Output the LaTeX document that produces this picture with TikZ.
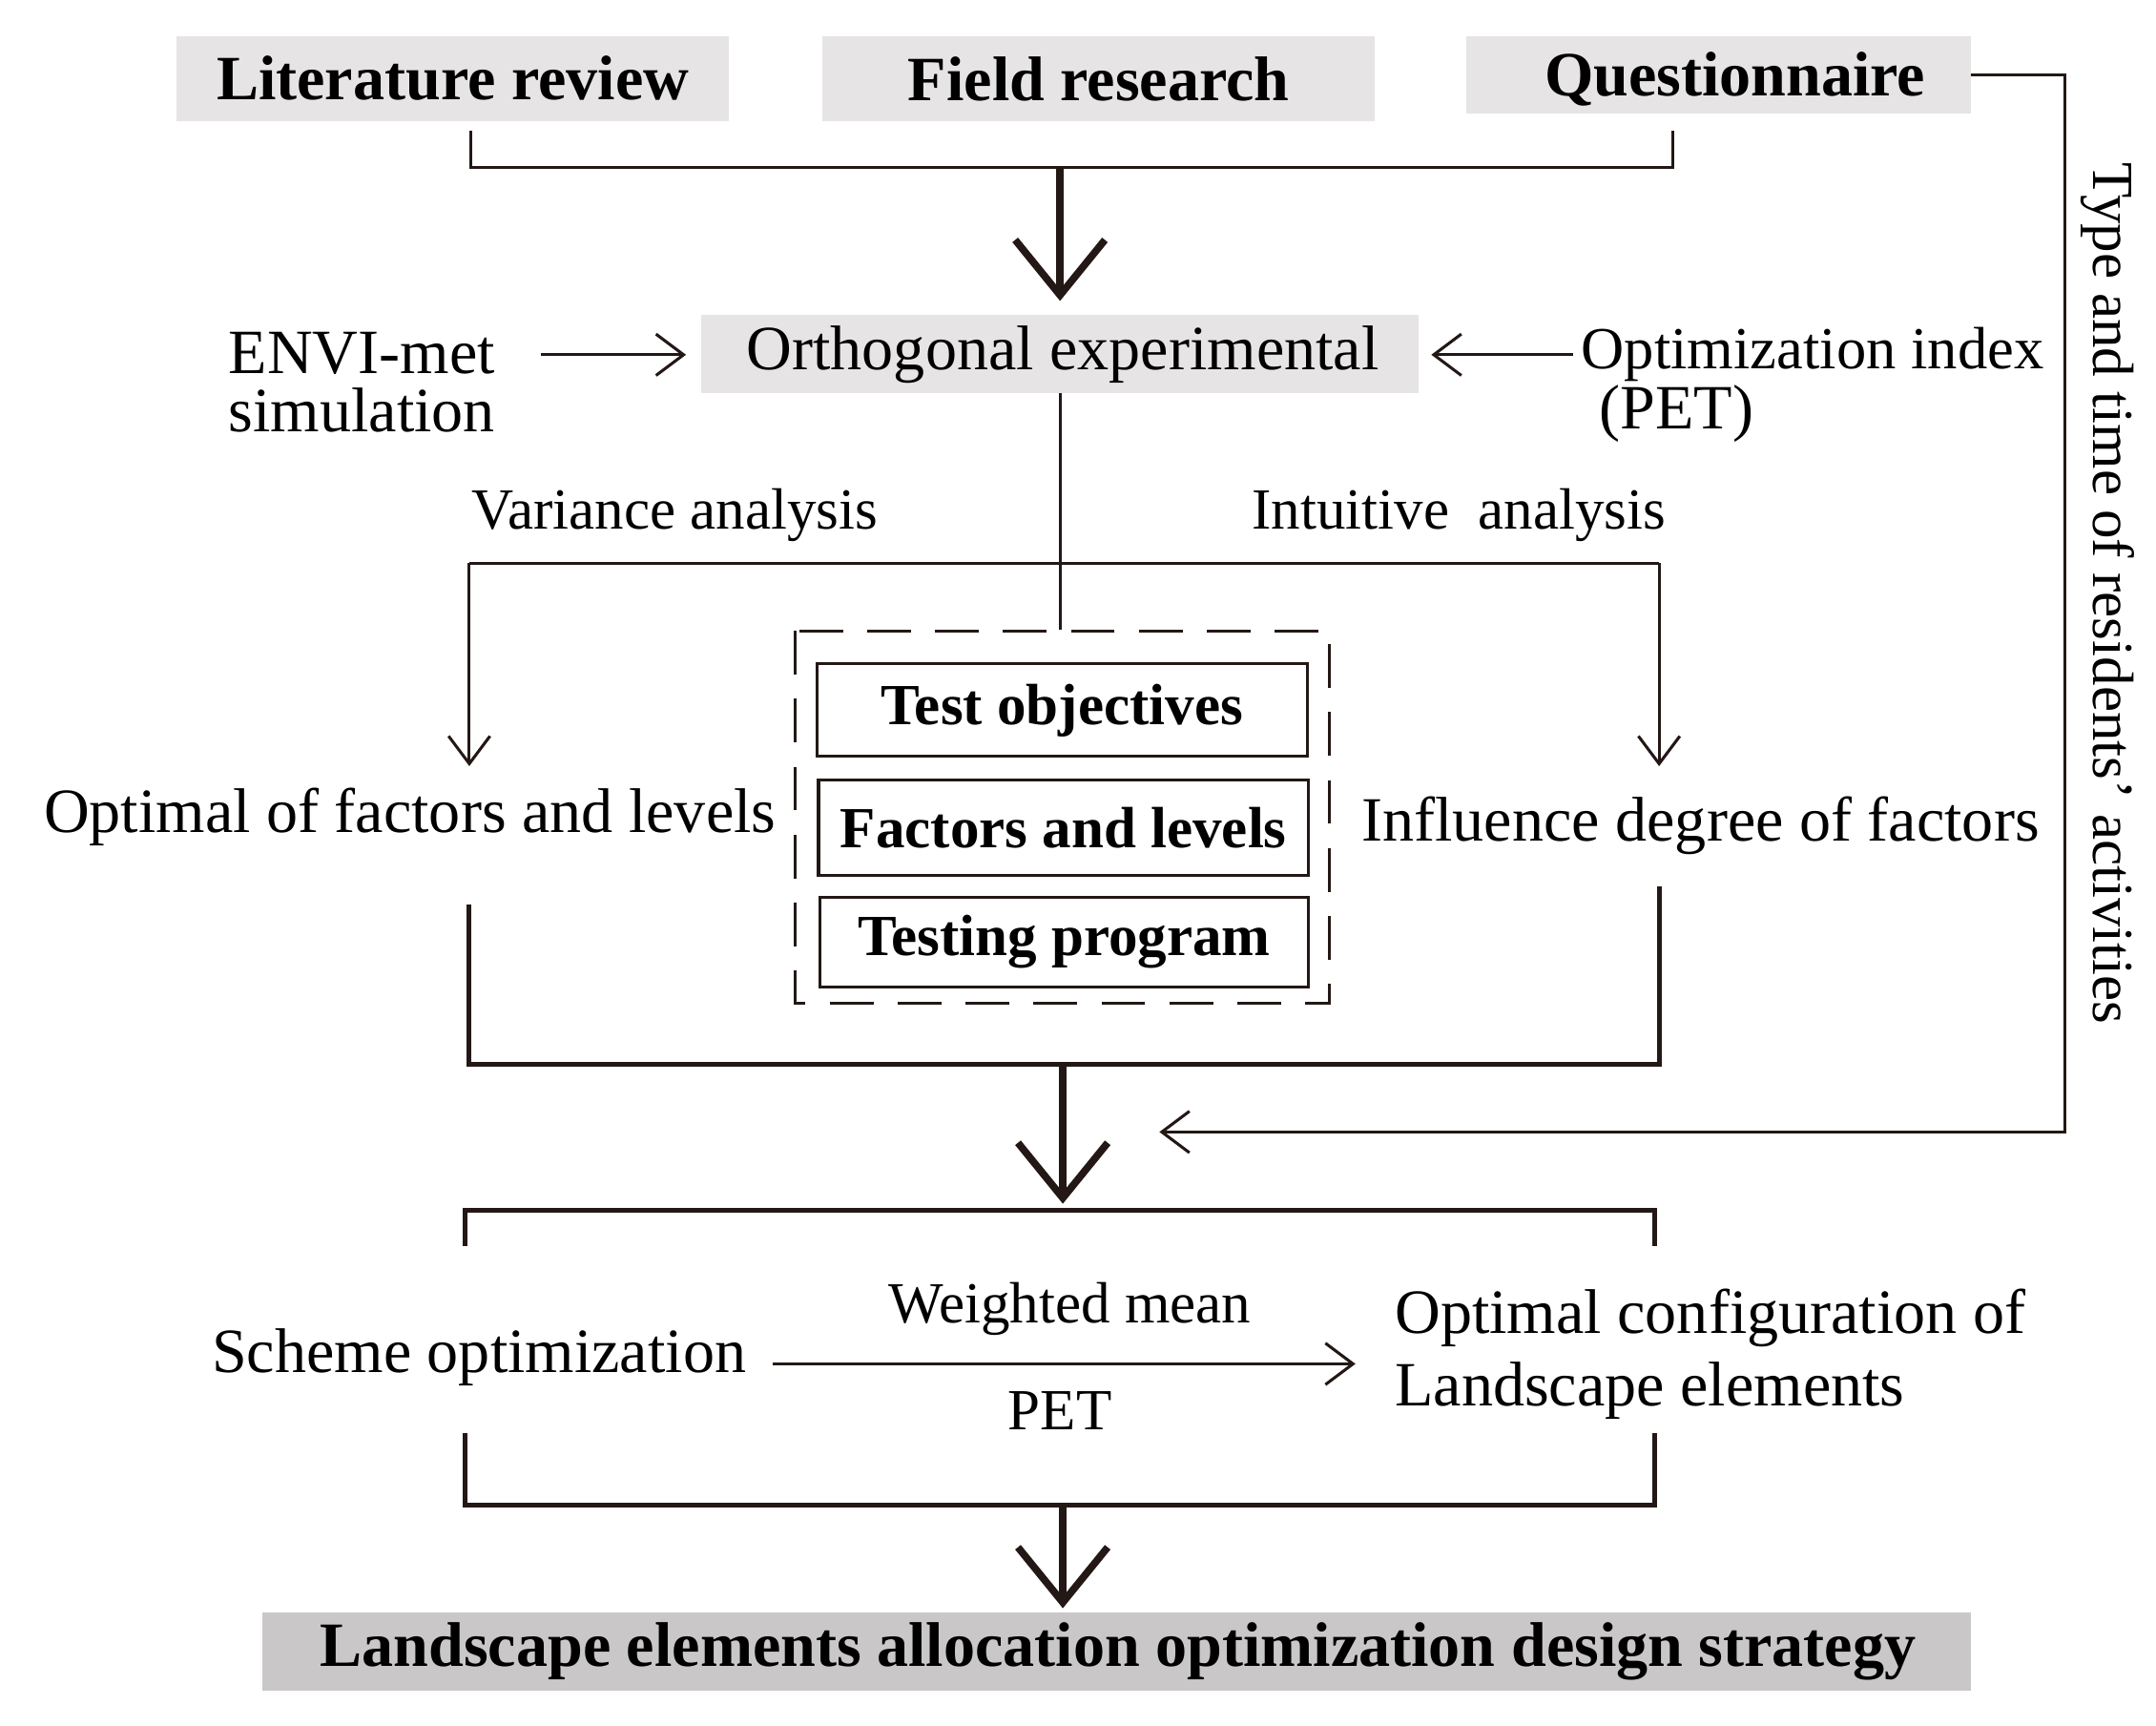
\documentclass[tikz,border=0pt]{standalone}
\usepackage{fontspec}
\setmainfont{Liberation Serif}
\usetikzlibrary{arrows.meta}
\definecolor{lg}{HTML}{E6E4E4}
\definecolor{dg}{HTML}{C9C7C7}
\definecolor{ln}{HTML}{231815}
\begin{document}
\begin{tikzpicture}[x=0.1mm,y=-0.1mm,
  gbox/.style={font=\fontsize{13}{15}\selectfont\bfseries,inner sep=0},
  wbox/.style={draw=ln,line width=0.6pt,font=\fontsize{12}{14}\selectfont\bfseries,inner sep=0},
  txt/.style={font=\fontsize{13}{15}\selectfont,inner sep=0},
  stxt/.style={font=\fontsize{12}{14}\selectfont,inner sep=0},
  thin/.style={draw=ln,line width=0.6pt},
  thinar/.style={thin,-{Straight Barb[length=2mm,width=3mm]}},
  thick/.style={draw=ln,line width=1.5pt,-{Straight Barb[length=4mm,width=6.5mm,line width=1.5pt]}}]
\useasboundingbox (0,0) rectangle (1562,1250);
% top boxes
\path[fill=lg] (128,26) rectangle (528,88);
\node[gbox] (lit) at (328,57) {Literature review};
\path[fill=lg] (596,26) rectangle (996,88);
\node[gbox] (field) at (796,57) {Field research};
\path[fill=lg] (1062,26) rectangle (1428,82);
\node[gbox] (quest) at (1257,57) {Questionnaire};
\coordinate (qr) at (1428,54);
\draw[thin] (341,95) -- (341,121) -- (1212,121) -- (1212,95);
\coordinate (b1) at (768,121);
% orthogonal
\path[fill=lg] (508,228) rectangle (1028,285);
\node[txt] (orth) at (770,257) {Orthogonal experimental};
\draw[thick] (b1) -- (768,218);
\node[txt,align=left,anchor=west,font=\fontsize{13}{12}\selectfont] (envi) at (165,277) {ENVI-met\\simulation};
\coordinate (ea) at (392,257); \coordinate (eb) at (497,257);
\draw[thinar] (ea) -- (eb);
\node[stxt,anchor=west,font=\fontsize{12.3}{14}\selectfont] (opt) at (1145,257) {Optimization index};
\node[txt,anchor=west] (pet1) at (1158,300) {(PET)};
\coordinate (oa) at (1140,257); \coordinate (ob) at (1037,257);
\draw[thinar] (oa) -- (ob);
\coordinate (dtop) at (768,456);
\draw[thin] (768,285) -- (dtop);
\draw[thin] (340,408) -- (1202,408);
\draw[thinar] (340,408) -- (340,555);
\draw[thinar] (1202,408) -- (1202,555);
\node[stxt] (va) at (489,373) {Variance analysis};
\node[stxt] (ia) at (1057,373) {Intuitive\ \ analysis};
% dashed box
\draw[thin,dash pattern=on 9pt off 5pt] (576,457) rectangle (963,727);
\node[wbox,minimum width=35.5mm,minimum height=6.7mm] (to) at (769.5,514.5) {Test objectives};
\node[wbox,minimum width=35.5mm,minimum height=6.9mm] (fl) at (770.5,599.5) {Factors and levels};
\node[wbox,minimum width=35.4mm,minimum height=6.5mm] (tp) at (771,682.5) {Testing program};
\node[txt] (ofl) at (297,592) {Optimal of factors and levels};
\node[txt] (idf) at (1232,598) {Influence degree of factors};
\draw[thin,line width=1pt] (340,655) -- (340,771) -- (1202,771) -- (1202,642);
\coordinate (b2) at (770,771);
\draw[thick] (b2) -- (770,872);
% feedback
\coordinate (fb) at (840,820);
\draw[thinar] (qr) -- (1496,54) -- (1496,820) -- (fb);
\node[stxt,rotate=-90] (type) at (1527,430) {Type and time of residents' activities};
% lower bracket
\draw[thin,line width=1pt] (337,903) -- (337,877) -- (1199,877) -- (1199,903);
\draw[thin,line width=1pt] (337,1038) -- (337,1090) -- (1199,1090) -- (1199,1038);
\node[txt] (so) at (347,983) {Scheme optimization};
\coordinate (sa) at (560,988); \coordinate (sb) at (982,988);
\draw[thinar] (sa) -- (sb);
\node[stxt] (wm) at (775,948) {Weighted mean};
\node[stxt] (pet2) at (768,1022) {PET};
\node[txt,align=left,anchor=west] (oc) at (1010,981) {Optimal configuration of\\Landscape elements};
\coordinate (b3) at (770,1090);
\draw[thick] (b3) -- (770,1165);
\path[fill=dg] (190,1168) rectangle (1428,1225);
\node[gbox] (land) at (810,1196) {Landscape elements allocation optimization design strategy};
\end{tikzpicture}
\end{document}
